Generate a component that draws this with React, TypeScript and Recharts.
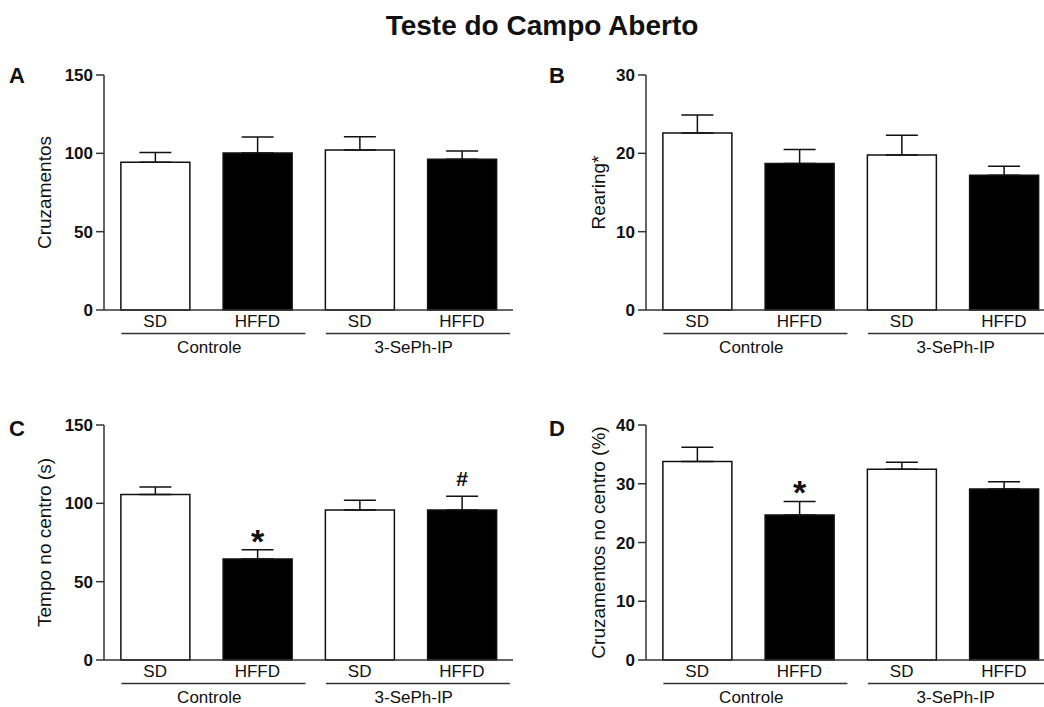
import React from 'react';
import { BarChart, Bar, XAxis, YAxis, ErrorBar, Cell, LabelList } from 'recharts';

// ---------- data ----------
const categories = ['SD', 'HFFD', 'SD', 'HFFD'];
const groupOf = ['Controle', 'Controle', '3-SePh-IP', '3-SePh-IP'];
const barFills = ['#ffffff', '#000000', '#ffffff', '#000000'];

const crossMean = [94.3, 100.2, 102.1, 96.2];
const crossSem = [6.3, 10.2, 8.5, 5.3];

const rearMean = [22.6, 18.7, 19.8, 17.2];
const rearSem = [2.3, 1.8, 2.5, 1.15];

const timeMean = [105.7, 64.5, 95.7, 95.7];
const timeSem = [4.7, 5.9, 6.2, 8.8];
const timeSig = ['', '*', '', '#'];

const centerMean = [33.8, 24.7, 32.45, 29.1];
const centerSem = [2.4, 2.3, 1.2, 1.25];
const centerSig = ['', '*', '', ''];

const ticksA = [0, 50, 100, 150];
const ticksB = [0, 10, 20, 30];
const ticksC = [0, 50, 100, 150];
const ticksD = [0, 10, 20, 30, 40];

// ---------- layout ----------
const FONT = '"Liberation Sans", Arial, Helvetica, sans-serif';
const PLOT_W = 409;
const PLOT_H = 235;
const BAND = PLOT_W / categories.length;
const MARGIN_TOP = 20;
const XAXIS_H = 55;
const INK = '#111';
const LINE = '#333';

function buildData(mean: number[], sem: number[], sig?: string[]) {
  return categories.map((c, i) => ({
    key: `${groupOf[i]}|${c}|${i}`,
    mean: mean[i],
    err: [0, sem[i]],
    sem: sem[i],
    sig: sig ? sig[i] : '',
  }));
}

const GroupTick = (props: any) => {
  const { x, y, payload, index } = props;
  const parts = String(payload?.value ?? '').split('|');
  const group = parts[0];
  const label = parts[1];
  const isFirst = index % 2 === 0;
  return (
    <g>
      <text x={x} y={y + 17} textAnchor="middle" fontSize={17} fill={INK} fontFamily={FONT}>
        {label}
      </text>
      {isFirst && (
        <g>
          <line
            x1={x - 0.33 * BAND}
            x2={x + BAND + 0.47 * BAND}
            y1={y + 23.5}
            y2={y + 23.5}
            stroke={LINE}
            strokeWidth={1.5}
          />
          <text x={x + BAND / 2 + 3} y={y + 43} textAnchor="middle" fontSize={17} fill={INK} fontFamily={FONT}>
            {group}
          </text>
        </g>
      )}
    </g>
  );
};

const makeSig = (data: any[]) => (props: any) => {
  const { value, index } = props;
  if (!value) return null;
  const vb = props.viewBox || {};
  const x = props.x ?? vb.x;
  const y = props.y ?? vb.y;
  const w = props.width ?? vb.width;
  const h = props.height ?? vb.height;
  const d = data[index];
  const pxPerUnit = Math.abs(h) / d.mean;
  const errTop = y - d.sem * pxPerUnit;
  const isStar = value === '*';
  return (
    <text
      x={x + w / 2}
      y={isStar ? errTop + 3 : errTop - 10}
      textAnchor="middle"
      fontSize={isStar ? 34 : 21}
      fontWeight="bold"
      fill={INK}
      fontFamily={FONT}
    >
      {value}
    </text>
  );
};

type PanelProps = {
  left: number;
  top: number;
  yAxisW: number;
  labelOffset: number;
  yLabel: string;
  data: any[];
  domain: [number, number];
  ticks: number[];
};

const Panel = ({ left, top, yAxisW, labelOffset, yLabel, data, domain, ticks }: PanelProps) => {
  const width = yAxisW + PLOT_W + 10;
  const height = MARGIN_TOP + PLOT_H + XAXIS_H;
  return (
    <div style={{ position: 'absolute', left, top, width, height }}>
      <BarChart
        width={width}
        height={height}
        data={data}
        margin={{ top: MARGIN_TOP, right: 10, left: 0, bottom: 0 }}
        barCategoryGap="16.5%"
      >
        <XAxis
          dataKey="key"
          tickLine={false}
          tickSize={0}
          tickMargin={0}
          interval={0}
          height={XAXIS_H}
          axisLine={{ stroke: LINE, strokeWidth: 1.5 }}
          tick={<GroupTick />}
        />
        <YAxis
          type="number"
          domain={domain}
          ticks={ticks}
          interval={0}
          width={yAxisW}
          tickSize={8}
          tickMargin={3}
          axisLine={{ stroke: LINE, strokeWidth: 1.5 }}
          tickLine={{ stroke: LINE, strokeWidth: 1.5 }}
          tick={{ fontSize: 17, fontWeight: 'bold', fill: INK, fontFamily: FONT }}
          label={{
            value: yLabel,
            angle: -90,
            position: 'insideLeft',
            offset: labelOffset,
            style: { textAnchor: 'middle', fontSize: 19, fill: INK, fontFamily: FONT },
          }}
        />
        <Bar dataKey="mean" isAnimationActive={false} stroke={INK} strokeWidth={1.5}>
          {data.map((_, i) => (
            <Cell key={i} fill={barFills[i]} />
          ))}
          <ErrorBar dataKey="err" direction="y" width={16} stroke={INK} strokeWidth={1.5} isAnimationActive={false} />
          <LabelList dataKey="sig" content={makeSig(data)} />
        </Bar>
      </BarChart>
    </div>
  );
};

export default function App() {
  const dataA = buildData(crossMean, crossSem);
  const dataB = buildData(rearMean, rearSem);
  const dataC = buildData(timeMean, timeSem, timeSig);
  const dataD = buildData(centerMean, centerSem, centerSig);
  return (
    <div
      style={{
        position: 'absolute',
        left: 0,
        top: 0,
        width: 1044,
        height: 707,
        overflow: 'hidden',
        background: '#ffffff',
        fontFamily: FONT,
      }}
    >
      <svg width={1044} height={707} style={{ position: 'absolute', left: 0, top: 0 }}>
        <text x={542} y={35} textAnchor="middle" fontSize={28} fontWeight="bold" fill={INK} fontFamily={FONT}>
          Teste do Campo Aberto
        </text>
        <text x={9} y={83} fontSize={22} fontWeight="bold" fill={INK} fontFamily={FONT}>A</text>
        <text x={549} y={83} fontSize={22} fontWeight="bold" fill={INK} fontFamily={FONT}>B</text>
        <text x={9} y={436} fontSize={22} fontWeight="bold" fill={INK} fontFamily={FONT}>C</text>
        <text x={549} y={436} fontSize={22} fontWeight="bold" fill={INK} fontFamily={FONT}>D</text>
      </svg>
      <Panel left={0} top={55} yAxisW={104} labelOffset={44} yLabel="Cruzamentos" data={dataA} domain={[0, 150]} ticks={ticksA} />
      <Panel left={522} top={55} yAxisW={124} labelOffset={76} yLabel="Rearing*" data={dataB} domain={[0, 30]} ticks={ticksB} />
      <Panel left={0} top={405} yAxisW={104} labelOffset={44} yLabel="Tempo no centro (s)" data={dataC} domain={[0, 150]} ticks={ticksC} />
      <Panel left={522} top={405} yAxisW={124} labelOffset={76} yLabel="Cruzamentos no centro (%)" data={dataD} domain={[0, 40]} ticks={ticksD} />
    </div>
  );
}
